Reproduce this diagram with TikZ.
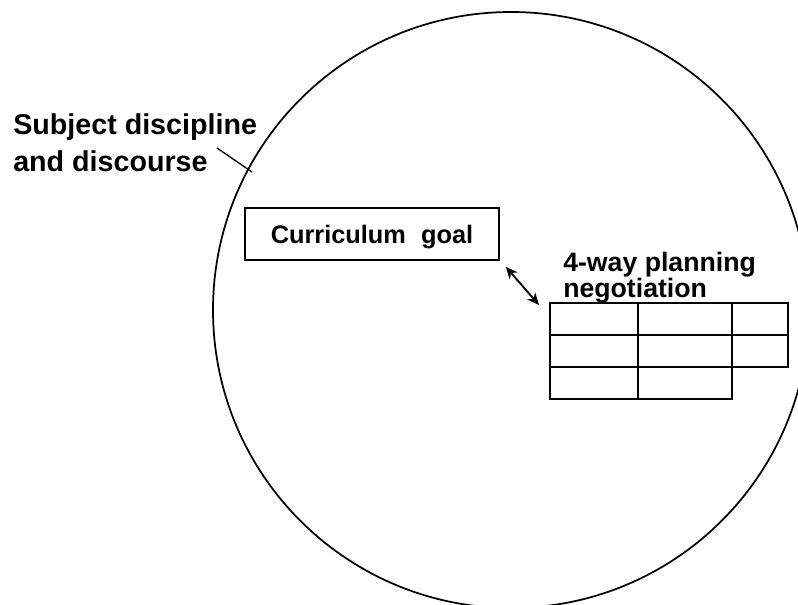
\documentclass[tikz,border=0pt]{standalone}
\usepackage{fontspec}
\setmainfont{Liberation Sans}
\usetikzlibrary{arrows.meta}

\tikzset{
  label text/.style={anchor=north west, align=left, inner sep=0pt},
  goal box/.style={draw, line width=1.2pt, minimum width=190.5pt, minimum height=39pt,
    inner sep=0pt, text depth=0pt, font=\bfseries\fontsize{19}{22}\selectfont},
  cell/.style={line width=1.6pt},
  both arrow/.style={{Stealth[length=9pt,width=8pt]}-{Stealth[length=9pt,width=8pt]}, line width=1.4pt}
}

\begin{document}
\begin{tikzpicture}[x=0.75pt, y=-0.75pt]

 \useasboundingbox (0,0) rectangle (798,604);

 %%%%%%%%%% Points pour travailler %%%%%%%%%%
 \coordinate (centre) at (511,310);
 \coordinate (lead0) at (217,148);
 \coordinate (lead1) at (252,172);
 \coordinate (t0) at (550,303);
 \coordinate (t1) at (638,335);
 \coordinate (t2) at (732,367);
 \coordinate (t3) at (788,399);

 %%%%%%%%%% Discourse circle %%%%%%%%%%
 \begin{scope}
  \clip (0,0) rectangle (798,604);
  \draw [line width=1.3pt] (centre) circle [radius=223.5pt];
 \end{scope}

 %%%%%%%%%% Labels %%%%%%%%%%
 \node [label text, font=\bfseries\fontsize{21.5}{27.8}\selectfont] (subject) at (13,113)
   {Subject discipline\\and discourse};
 \draw [line width=1pt] (lead0) -- (lead1);

 \node [label text, font=\bfseries\fontsize{20}{17.5}\selectfont] (negotiation) at (563,252)
   {4-way planning\\negotiation};

 %%%%%%%%%% Curriculum goal %%%%%%%%%%
 \node [goal box] (goal) at (372,234) {Curriculum\hspace{0.6em}goal};

 %%%%%%%%%% Planning table %%%%%%%%%%
 \draw [cell] (550,303) rectangle (638,335);
 \draw [cell] (638,303) rectangle (732,335);
 \draw [cell] (732,303) rectangle (788,335);
 \draw [cell] (550,335) rectangle (638,367);
 \draw [cell] (638,335) rectangle (732,367);
 \draw [cell] (732,335) rectangle (788,367);
 \draw [cell] (550,367) rectangle (638,399);
 \draw [cell] (638,367) rectangle (732,399);

 %%%%%%%%%% Negotiation arrow %%%%%%%%%%
 \draw [both arrow] ([shift={(6,6)}]goal.south east) -- ([shift={(-11,2)}]t0);

\end{tikzpicture}
\end{document}
